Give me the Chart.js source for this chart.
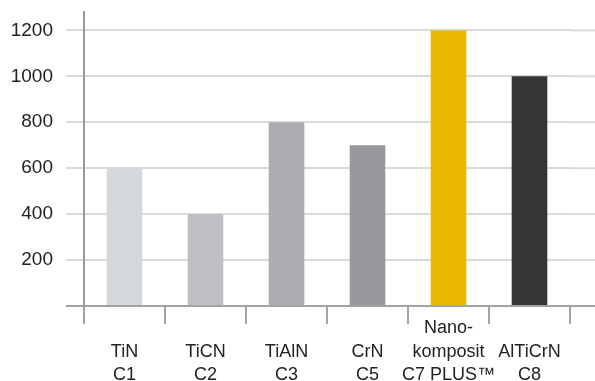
<!DOCTYPE html>
<html>
<head>
<meta charset="utf-8">
<script src="https://cdn.jsdelivr.net/npm/chart.js@4/dist/chart.umd.min.js"></script>
<style>
  html, body { margin: 0; padding: 0; background: #fff; }
  #wrap { width: 595px; height: 381px; }
</style>
</head>
<body>
<div id="wrap"><canvas id="coatingChart"></canvas></div>
<script>
const categories = [
  ['', 'TiN', 'C1'],
  ['', 'TiCN', 'C2'],
  ['', 'TiAlN', 'C3'],
  ['', 'CrN', 'C5'],
  ['Nano-', 'komposit', 'C7 PLUS™'],
  ['', 'AlTiCrN', 'C8']
];
const values = [600, 400, 800, 700, 1200, 1000];
const barColors = ['#d5d8db', '#bebfc2', '#acadb0', '#98979b', '#e8b900', '#363638'];
const yTicks = [0, 200, 400, 600, 800, 1000, 1200];

const gridColor = '#dadada';
const axisColor = '#a3a3a3';

// grid lines run on past the last category to the right edge
const extendGrid = {
  id: 'extendGrid',
  beforeDatasetsDraw(chart) {
    const ctx = chart.ctx;
    const y = chart.scales.y;
    ctx.save();
    ctx.lineWidth = 2;
    yTicks.forEach(v => {
      const py = y.getPixelForValue(v);
      ctx.strokeStyle = v === 0 ? axisColor : gridColor;
      ctx.beginPath();
      ctx.moveTo(chart.chartArea.right, py);
      ctx.lineTo(chart.width, py);
      ctx.stroke();
    });
    ctx.restore();
  }
};

new Chart(document.getElementById('coatingChart').getContext('2d'), {
  type: 'bar',
  data: {
    labels: categories,
    datasets: [{
      data: values,
      backgroundColor: barColors,
      barPercentage: 0.44,
      categoryPercentage: 1
    }]
  },
  plugins: [extendGrid],
  options: {
    responsive: true,
    maintainAspectRatio: false,
    animation: false,
    layout: { padding: { left: 0, right: 25, top: 12, bottom: 0 } },
    plugins: {
      legend: { display: false },
      tooltip: { enabled: false }
    },
    scales: {
      x: {
        offset: true,
        grid: {
          offset: true,
          drawOnChartArea: false,
          color: axisColor,
          lineWidth: 2,
          tickLength: 18
        },
        border: { display: true, color: axisColor, width: 2 },
        ticks: {
          color: '#222',
          padding: -7,
          autoSkip: false,
          maxRotation: 0,
          minRotation: 0,
          font: { family: '"Liberation Sans", Arial, sans-serif', size: 18, lineHeight: 1.28 }
        },
        afterFit(scale) { scale.height = 75; }
      },
      y: {
        min: 0,
        max: 1280,
        afterBuildTicks(scale) { scale.ticks = yTicks.map(v => ({ value: v })); },
        grid: {
          color: ctx => ctx.tick && ctx.tick.value === 0 ? axisColor : gridColor,
          lineWidth: 2,
          tickLength: 18
        },
        border: { display: true, color: '#999', width: 2 },
        ticks: {
          color: '#222',
          padding: 13,
          callback: (v, i) => (yTicks[i] === 0 ? '' : String(yTicks[i])),
          font: { family: '"Liberation Sans", Arial, sans-serif', size: 19 }
        },
        afterFit(scale) {
          scale.width = 84;
          scale.paddingTop = 0;
          scale.paddingBottom = 0;
        }
      }
    }
  }
});
</script>
</body>
</html>
